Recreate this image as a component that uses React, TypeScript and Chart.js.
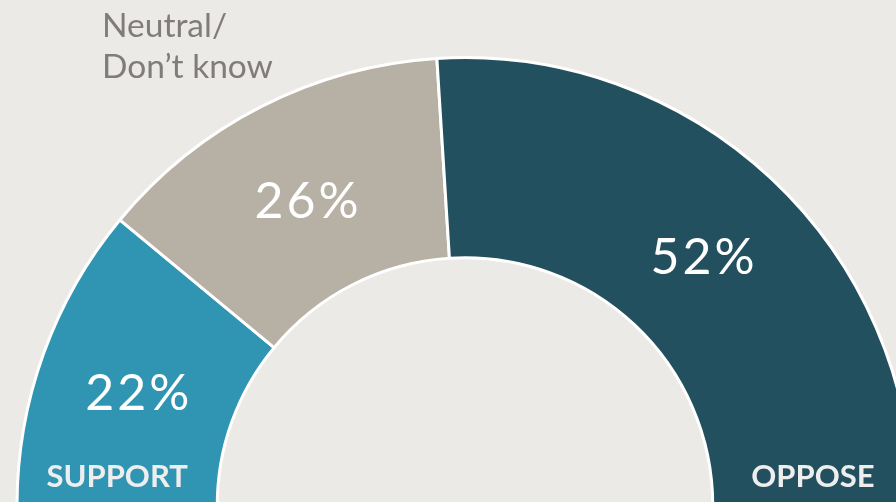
import React, { useEffect, useRef } from "react";
import { Chart, registerables } from "chart.js";

Chart.register(...registerables);

const categories = ["SUPPORT", "Neutral/\nDon’t know", "OPPOSE"];
const values = [22, 26, 52];
const valueLabels = ["22%", "26%", "52%"];
const colors = ["#2F95B2", "#B7B0A5", "#22505F"];
const BG = "#ECEAE6";

const labelPlugin = {
  id: "labels",
  afterDatasetsDraw(chart: any) {
    const ctx = chart.ctx;
    const meta = chart.getDatasetMeta(0);
    ctx.save();
    meta.data.forEach((arc: any, i: number) => {
      const { x, y, startAngle, endAngle, innerRadius, outerRadius } = arc.getProps(
        ["x", "y", "startAngle", "endAngle", "innerRadius", "outerRadius"],
        true
      );
      const mid = (startAngle + endAngle) / 2;
      const r = (innerRadius + outerRadius) / 2;
      ctx.fillStyle = "#FFFFFF";
      ctx.font = "normal 50px Lato, 'Open Sans', sans-serif";
      ctx.textAlign = "center";
      ctx.textBaseline = "middle";
      (ctx as any).letterSpacing = "3px";
      ctx.fillText(valueLabels[i], x + r * Math.cos(mid) + 1, y + r * Math.sin(mid) + 6);
      (ctx as any).letterSpacing = "0px";
      if (i === 0 || i === 2) {
        ctx.fillStyle = "#EEEEEE";
        ctx.font = "bold 31px Lato, 'Open Sans', sans-serif";
        const lx = i === 0 ? x - r : x + r;
        ctx.fillText(categories[i], lx, y - 29);
      } else {
        ctx.fillStyle = "#807C79";
        ctx.font = "33.5px Lato, 'Open Sans', sans-serif";
        ctx.textAlign = "left";
        ctx.textBaseline = "alphabetic";
        const lines = categories[i].split("\n");
        lines.forEach((ln, k) => ctx.fillText(ln, x - 363, y - 469 + k * 41));
      }
    });
    ctx.restore();
  },
};

export default function App() {
  const ref = useRef<HTMLCanvasElement>(null);
  useEffect(() => {
    if (!ref.current) return;
    const chart = new Chart(ref.current, {
      type: "doughnut",
      data: {
        labels: categories,
        datasets: [
          {
            data: values,
            backgroundColor: colors,
            borderColor: "#FFFFFF",
            borderWidth: 3,
            hoverOffset: 0,
          },
        ],
      },
      options: {
        responsive: false,
        animation: false,
        rotation: -90,
        circumference: 180,
        radius: 448,
        cutout: "55.3%",
        layout: { padding: 0 },
        plugins: { legend: { display: false }, tooltip: { enabled: false } },
      },
      plugins: [labelPlugin],
    });
    return () => chart.destroy();
  }, []);
  return (
    <div
      style={{
        position: "fixed",
        left: 0,
        top: 0,
        width: 896,
        height: 502,
        overflow: "hidden",
        background: BG,
      }}
    >
      <canvas ref={ref} width={930} height={563} style={{ position: "absolute", left: 0, top: 0 }} />
    </div>
  );
}
